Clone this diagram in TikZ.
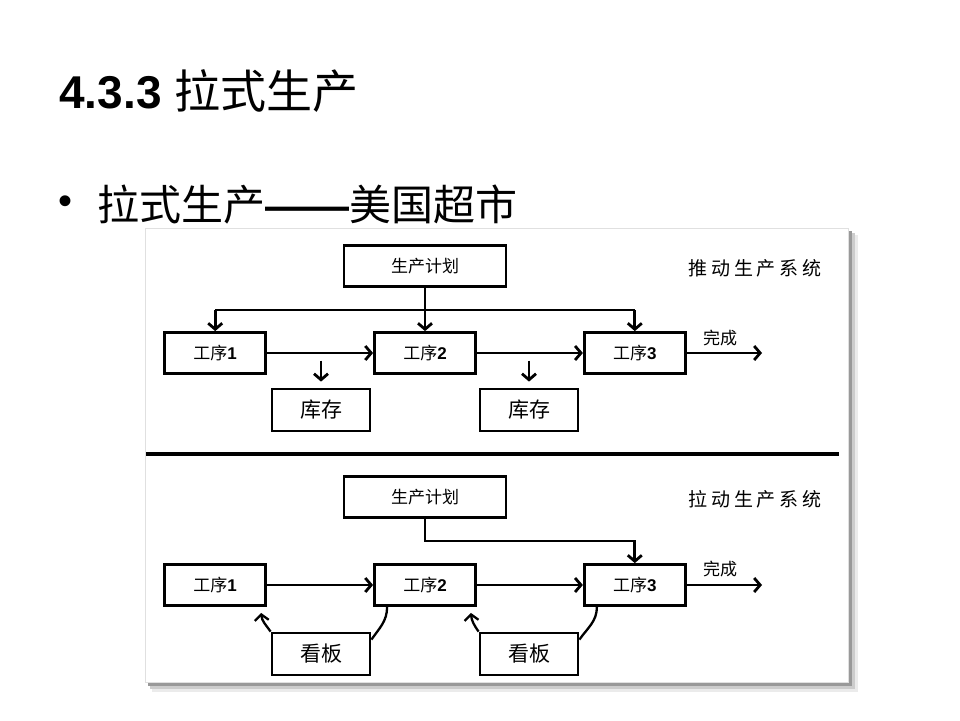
\documentclass[tikz,border=0pt]{standalone}
\usepackage{fontspec}
\setmainfont{Liberation Sans}
\newfontfamily\cjk{Noto Sans CJK SC}
\newfontfamily\cjkwide[LetterSpace=20]{Noto Sans CJK SC}
\usetikzlibrary{positioning,arrows.meta}
\newcommand\dg[1]{{\rmfamily\bfseries #1}}
\newcommand\bxfont{\cjk\fontsize{17}{17}\selectfont}
\newcommand\kbfont{\cjk\fontsize{21}{21}\selectfont}
\newcommand\sysfont{\cjkwide\fontsize{19}{19}\selectfont}

\begin{document}
\begin{tikzpicture}[x=1pt,y=-1pt,line width=2.8pt,
  box/.style={draw,minimum width=#1,minimum height=41pt,inner sep=0pt,fill=white,font=\bxfont},
  box/.default=101pt,
  big/.style={box=98pt,minimum height=42pt,font=\kbfont},
  tag/.style={font=\bxfont},
  sys/.style={font=\sysfont},
  arr/.style={-{Straight Barb[length=6pt,width=14pt]}}]
\useasboundingbox (0,0) rectangle (960,720);
\fill[white] (0,0) rectangle (960,720);
% heading
\node[anchor=west,inner sep=0pt] (title) at (58,91) {\fontsize{46}{46}\selectfont\bfseries 4.3.3 {\cjk\mdseries 拉式生产}};
\node[inner sep=0pt] (dot) at (66,205) {\fontsize{40}{40}\selectfont •};
\node[anchor=west,inner sep=0pt] (sub) at (96,205) {\cjk\fontsize{42}{42}\selectfont 拉式生产{\rmfamily\bfseries ——}美国超市};
% panel with shadow
\fill[black!8] (152,235) rectangle (858,692);
\fill[black!20] (150,233) rectangle (855,689);
\fill[black!40] (148,231) rectangle (852,686);
\fill[white,draw=black!12,line width=0.6pt] (145,228) rectangle (848,682);
% push system
\node[box=162pt] (plan1) at (425,266) {生产计划};
\node[box] (p2) at (425,353) {工序\dg{2}};
\node[box,left=106pt of p2] (p1) {工序\dg{1}};
\node[box,right=106pt of p2] (p3) {工序\dg{3}};
\node[big] (st1) at (321,410) {库存};
\node[big] (st2) at (529,410) {库存};
\node[sys] (push) at (755,268) {推动生产系统};
\node[tag] (fin1) at (720,338) {完成};
\coordinate (bus1) at (425,310);
\coordinate (out1) at (762,353);
\draw (bus1 -| p1) -- (bus1 -| p3);
\foreach \n in {p1,p3} \draw[arr] (bus1 -| \n) -- (\n.north);
\draw[arr] (plan1) -- (p2);
\foreach \a/\b in {p1/p2,p2/p3} \draw[arr] (\a) -- (\b);
\draw[arr] (p3) -- (out1);
\foreach \s in {st1,st2} \draw[arr] ([yshift=27pt]\s.north) -- ([yshift=6pt]\s.north);
% divider
\coordinate (divl) at (146,454);
\coordinate (divr) at (839,454);
\draw[line width=3.2pt] (divl) -- (divr);
% pull system
\node[box=162pt] (plan2) at (425,497) {生产计划};
\node[box] (q2) at (425,585) {工序\dg{2}};
\node[box,left=106pt of q2] (q1) {工序\dg{1}};
\node[box,right=106pt of q2] (q3) {工序\dg{3}};
\node[big] (kb1) at (321,654) {看板};
\node[big] (kb2) at (529,654) {看板};
\node[sys] (pull) at (755,499) {拉动生产系统};
\node[tag] (fin2) at (720,569) {完成};
\coordinate (bus2) at (425,541);
\coordinate (out2) at (762,585);
\draw[arr] (plan2) -- (bus2) -| (q3.north);
\foreach \a/\b in {q1/q2,q2/q3} \draw[arr] (\a) -- (\b);
\draw[arr] (q3) -- (out2);
\foreach \k/\a/\b in {kb1/q1/q2,kb2/q2/q3} {
  \draw[arr,line width=2.3pt] (\k.north west) to[out=125,in=-85] ([xshift=-6pt,yshift=-6pt]\a.south east);
  \draw[line width=2.3pt] ([xshift=14pt]\b.south west) to[out=-90,in=55] ([yshift=-8pt]\k.north east);
}
\end{tikzpicture}
\end{document}
